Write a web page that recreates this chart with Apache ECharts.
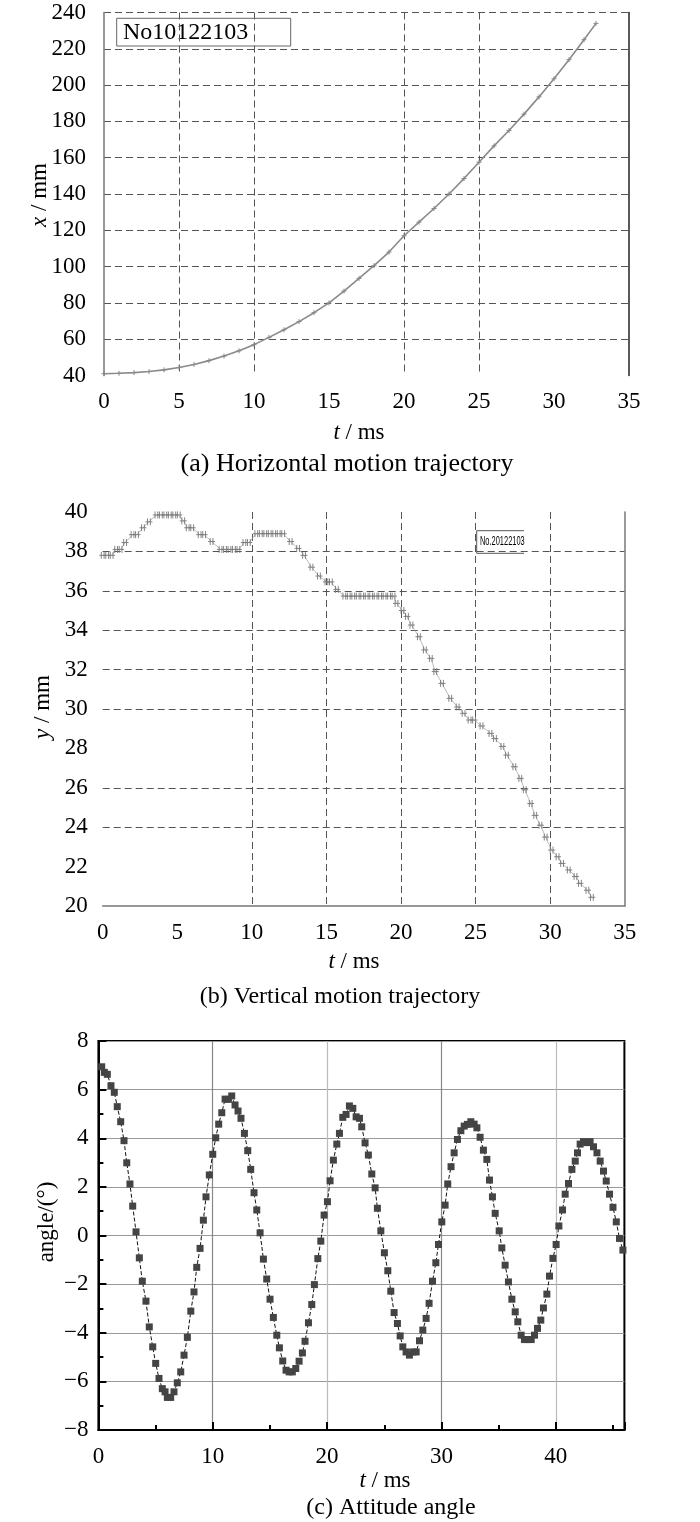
<!DOCTYPE html>
<html>
<meta charset="UTF-8">
<title>motion-trajectory</title>
<style type="text/css">
    html,
    body {
        margin: 0px;
        background: #fff;
    }

    #chart {
        width: 700px;
        height: 1522px;
    }
</style>
<script src="https://cdn.jsdelivr.net/npm/echarts@6/dist/echarts.min.js"></script>

<body>
    <div id="chart"></div>
    <script>
        const FONT = 'Liberation Serif';

        // (a) horizontal position x / mm against t / ms
        const tA = [0, 1, 2, 3, 4, 5, 6, 7, 8, 9, 10, 11, 12, 13, 14, 15, 16, 17, 18, 19, 20,
            21, 22, 23, 24, 25, 26, 27, 28, 29, 30, 31, 32, 32.8];
        const xA = [41, 41.2, 41.6, 42.2, 43.1, 44.4, 46.1, 48.2, 50.7, 53.6, 57, 61, 65.2, 69.7, 74.6, 80,
            86.5, 93.5, 100.5, 108, 117, 124.5, 132, 140, 148.5, 157.5, 166.5, 175, 184, 193.5, 203.5, 214, 225, 234];

        // (b) vertical position y / mm against t / ms
        const tB = [0, 0.3, 0.6, 0.9, 1.2, 1.5, 2.0, 2.3, 2.7, 3.1, 3.6, 3.9, 4.2, 4.5, 4.8, 5.1, 5.4, 5.7, 6.0,
            6.5, 6.8, 7.3, 7.9, 8.2, 8.5, 8.8, 9.1, 9.5, 9.8, 10.3, 10.6, 10.9, 11.2, 11.5, 11.8, 12.1, 12.6,
            13.1, 13.5, 14.0, 14.5, 15.0, 15.3, 15.7, 16.2, 16.5, 16.8, 17.1, 17.4, 17.7, 18.0, 18.3, 18.6,
            18.9, 19.2, 19.5, 19.7, 20.1, 20.4, 20.7, 21.2, 21.6, 22.0, 22.3, 22.75, 23.3, 23.8, 24.2, 24.6,
            24.9, 25.4, 26.0, 26.3, 26.8, 27.1, 27.6, 28.0, 28.3, 28.7, 29.0, 29.35, 29.7, 30.1, 30.5, 30.8,
            31.25, 31.7, 32.0, 32.5, 32.8];
        const yB = [37.8, 37.8, 37.8, 38.1, 38.1, 38.45, 38.85, 38.85, 39.2, 39.5, 39.85, 39.85, 39.85, 39.85,
            39.85, 39.85, 39.55, 39.2, 39.2, 38.85, 38.85, 38.5, 38.1, 38.1, 38.1, 38.1, 38.1, 38.45, 38.45,
            38.9, 38.9, 38.9, 38.9, 38.9, 38.9, 38.9, 38.5, 38.15, 37.8, 37.2, 36.75, 36.45, 36.45, 36.07,
            35.73, 35.73, 35.73, 35.73, 35.73, 35.73, 35.73, 35.73, 35.73, 35.73, 35.73, 35.73, 35.36, 35.0,
            34.7, 34.26, 33.67, 33.0, 32.57, 31.9, 31.3, 30.54, 30.1, 29.78, 29.44, 29.44, 29.14, 28.76, 28.5,
            28.1, 27.66, 27.07, 26.48, 25.9, 25.2, 24.6, 24.1, 23.5, 22.84, 22.5, 22.16, 21.83, 21.5, 21.15,
            20.8, 20.44];

        // (c) attitude angle / deg against t / ms
        const tC = [0.29, 0.52, 0.78, 1.10, 1.39, 1.65, 1.95, 2.24, 2.48, 2.76, 3.00, 3.29, 3.58, 3.84, 4.16,
            4.45, 4.75, 5.01, 5.30, 5.59, 5.83, 6.03, 6.32, 6.61, 6.90, 7.20, 7.49, 7.78, 8.08, 8.36, 8.60,
            8.89, 9.18, 9.41, 9.70, 10.00, 10.26, 10.52, 10.79, 11.08, 11.37, 11.66, 11.95, 12.21, 12.47,
            12.77, 13.06, 13.32, 13.61, 13.85, 14.14, 14.43, 14.72, 15.01, 15.30, 15.60, 15.83, 16.12, 16.41,
            16.68, 16.96, 17.26, 17.55, 17.84, 18.07, 18.37, 18.66, 18.89, 19.19, 19.45, 19.74, 20.03, 20.26,
            20.55, 20.85, 21.08, 21.37, 21.66, 21.95, 22.25, 22.54, 22.83, 23.03, 23.32, 23.61, 23.91, 24.20,
            24.40, 24.70, 25.01, 25.31, 25.57, 25.86, 26.15, 26.39, 26.62, 26.91, 27.20, 27.50, 27.79, 28.08,
            28.37, 28.66, 28.92, 29.22, 29.51, 29.74, 30.03, 30.32, 30.55, 30.84, 31.11, 31.40, 31.70, 31.99,
            32.27, 32.57, 32.86, 33.10, 33.38, 33.67, 33.97, 34.20, 34.46, 34.70, 35.05, 35.28, 35.57, 35.86,
            36.16, 36.45, 36.68, 36.97, 37.26, 37.56, 37.85, 38.14, 38.40, 38.69, 38.92, 39.22, 39.45, 39.75,
            40.03, 40.27, 40.59, 40.82, 41.11, 41.41, 41.70, 41.90, 42.13, 42.42, 42.72, 43.00, 43.30, 43.60,
            43.88, 44.17, 44.41, 44.70, 45.00, 45.29, 45.57, 45.87];
        const angC = [6.94, 6.71, 6.63, 6.16, 5.89, 5.30, 4.68, 3.90, 2.99, 2.12, 1.21, 0.15, -0.92, -1.88,
            -2.70, -3.76, -4.58, -5.26, -5.88, -6.30, -6.43, -6.66, -6.66, -6.43, -6.06, -5.61, -4.92, -4.19,
            -3.11, -2.32, -1.31, -0.53, 0.63, 1.59, 2.49, 3.34, 4.02, 4.58, 5.05, 5.61, 5.60, 5.74, 5.37, 5.12,
            4.82, 4.20, 3.49, 2.72, 1.76, 1.05, 0.11, -0.97, -1.79, -2.62, -3.37, -4.10, -4.62, -5.16, -5.54,
            -5.61, -5.61, -5.47, -5.17, -4.83, -4.35, -3.59, -2.84, -2.02, -0.95, -0.23, 0.84, 1.39, 2.25, 3.10,
            3.76, 4.20, 4.86, 4.98, 5.33, 5.23, 4.88, 4.82, 4.47, 3.81, 3.31, 2.53, 1.96, 1.12, 0.19, -0.71,
            -1.45, -2.29, -3.17, -3.62, -4.13, -4.58, -4.79, -4.92, -4.79, -4.79, -4.33, -3.89, -3.41, -2.79,
            -1.88, -1.12, -0.37, 0.56, 1.25, 2.12, 2.83, 3.40, 3.95, 4.31, 4.50, 4.57, 4.68, 4.58, 4.43, 4.04,
            3.51, 3.13, 2.28, 1.59, 0.91, 0.19, -0.51, -1.22, -1.91, -2.62, -3.14, -3.55, -4.10, -4.28, -4.28,
            -4.28, -4.10, -3.82, -3.48, -2.98, -2.41, -1.67, -0.94, -0.37, 0.39, 1.05, 1.70, 2.14, 2.72, 3.06,
            3.40, 3.76, 3.86, 3.82, 3.86, 3.65, 3.40, 3.06, 2.65, 2.24, 1.70, 1.16, 0.56, -0.12, -0.60];

        const legendA = 'No10122103';
        const legendB = 'No.20122103';
        const captions = ['(a) Horizontal motion trajectory', '(b) Vertical motion trajectory', '(c) Attitude angle'];

        const pair = (xs, ys) => xs.map((x, i) => [x, ys[i]]);
        const off = 'rgba(0,0,0,0)';
        const dash = '#555';
        const labelStyle = { color: '#000', fontFamily: FONT, fontSize: 23 };
        const plus2 = 'path://M3,0L3,10M7,0L7,10M0,5L10,5';
        const plus = 'path://M5,0L5,10M0,5L10,5';
        const minus = v => String(v).replace('-', '\u2212');
        const italicName = (txt, x, y, rot) => ({
            type: 'text', x: x, y: y, rotation: rot || 0,
            style: {
                text: txt, fontFamily: FONT, fontSize: 23, fill: '#000', align: 'center', verticalAlign: 'middle',
                rich: { i: { fontStyle: 'italic', fontFamily: FONT, fontSize: 23 } }
            }
        });
        const caption = (txt, x, y, size) => ({
            type: 'text', x: x, y: y,
            style: { text: txt, fontFamily: FONT, fontSize: size, fill: '#000', align: 'center', verticalAlign: 'middle' }
        });

        const chart = echarts.init(document.getElementById('chart'));

        const option = {
            animation: false,
            backgroundColor: '#fff',
            grid: [
                { left: 104, top: 12.5, width: 525, height: 363 },
                { left: 102.7, top: 512, width: 522, height: 394 },
                { left: 98.4, top: 1041, width: 526, height: 389, show: true, borderColor: '#000', borderWidth: 2 }
            ],
            xAxis: [
                {
                    gridIndex: 0, type: 'value', min: 0, max: 35, interval: 5,
                    axisLine: { show: false }, axisTick: { show: false },
                    axisLabel: Object.assign({ margin: 15 }, labelStyle),
                    splitLine: {
                        show: true,
                        lineStyle: { type: [7, 4], color: [off, dash, dash, off, dash, dash, off, off] }
                    }
                },
                {
                    gridIndex: 1, type: 'value', min: 0, max: 35, interval: 5,
                    axisLine: { show: true, onZero: false, lineStyle: { color: '#777', width: 1.5 } },
                    axisTick: { show: false },
                    axisLabel: Object.assign({ margin: 15 }, labelStyle),
                    splitLine: {
                        show: true,
                        lineStyle: { type: [7, 4], color: [off, off, dash, dash, dash, dash, dash, off] }
                    }
                },
                {
                    gridIndex: 2, type: 'value', min: 0, max: 46, interval: 10,
                    axisLine: { show: true, onZero: false, lineStyle: { color: '#000', width: 2 } },
                    axisTick: { show: true, inside: true, length: 8, lineStyle: { color: '#000', width: 2 } },
                    minorTick: { show: true, splitNumber: 2, length: 5, lineStyle: { color: '#000', width: 2 } },
                    axisLabel: Object.assign({ margin: 15, formatter: v => (v % 10 === 0 ? v : '') }, labelStyle),
                    splitLine: {
                        show: true,
                        lineStyle: { width: 1.2, color: ['#888', '#888', '#bbb', '#888', '#bbb', off] }
                    }
                }
            ],
            yAxis: [
                {
                    gridIndex: 0, type: 'value', min: 40, max: 240, interval: 20,
                    axisLine: { show: true, onZero: false, lineStyle: { color: '#777', width: 1.5 } },
                    axisTick: { show: false },
                    axisLabel: Object.assign({ margin: 18 }, labelStyle),
                    splitLine: {
                        show: true,
                        lineStyle: { type: [7, 4], color: [off, dash, dash, dash, dash, dash, dash, dash, dash, dash, dash] }
                    }
                },
                {
                    gridIndex: 0, type: 'value', min: 40, max: 240, position: 'right',
                    axisLine: { show: true, onZero: false, lineStyle: { color: '#222', width: 1.5 } },
                    axisTick: { show: false }, axisLabel: { show: false }, splitLine: { show: false }
                },
                {
                    gridIndex: 1, type: 'value', min: 20, max: 40, interval: 2,
                    axisLine: { show: false }, axisTick: { show: false },
                    axisLabel: Object.assign({ margin: 15 }, labelStyle),
                    splitLine: {
                        show: true,
                        lineStyle: { type: [7, 4], color: [off, off, dash, dash, off, dash, dash, dash, dash, dash, off] }
                    }
                },
                {
                    gridIndex: 1, type: 'value', min: 20, max: 40, position: 'right',
                    axisLine: { show: true, onZero: false, lineStyle: { color: '#777', width: 1.5 } },
                    axisTick: { show: false }, axisLabel: { show: false }, splitLine: { show: false }
                },
                {
                    gridIndex: 2, type: 'value', min: -8, max: 8, interval: 2,
                    axisLine: { show: true, onZero: false, lineStyle: { color: '#000', width: 2 } },
                    axisTick: { show: true, inside: true, length: 8, lineStyle: { color: '#000', width: 2 } },
                    minorTick: { show: true, splitNumber: 2, length: 5, lineStyle: { color: '#000', width: 2 } },
                    axisLabel: Object.assign({ margin: 10, formatter: minus }, labelStyle),
                    splitLine: { show: true, lineStyle: { width: 1.2, color: '#999' } }
                }
            ],
            series: [
                {
                    type: 'line', xAxisIndex: 0, yAxisIndex: 0, data: pair(tA, xA),
                    lineStyle: { color: '#8a8a8a', width: 1.6 },
                    symbol: plus, symbolSize: 5,
                    itemStyle: { color: off, borderColor: '#888', borderWidth: 1 }
                },
                {
                    type: 'line', xAxisIndex: 1, yAxisIndex: 2, data: pair(tB, yB),
                    lineStyle: { color: '#aaa', width: 0.8 },
                    symbol: plus2, symbolSize: [7, 7],
                    itemStyle: { color: off, borderColor: '#777', borderWidth: 0.9 }
                },
                {
                    type: 'line', xAxisIndex: 2, yAxisIndex: 4, data: pair(tC, angC),
                    lineStyle: { color: '#111', width: 1, type: [4, 2] },
                    symbol: 'rect', symbolSize: 7,
                    itemStyle: { color: '#444' }
                }
            ],
            graphic: [
                {
                    type: 'rect', shape: { x: 116.7, y: 18.3, width: 174, height: 27.7 },
                    style: { fill: '#fff', stroke: '#666', lineWidth: 1 }
                },
                {
                    type: 'text', x: 123, y: 32.5,
                    style: { text: legendA, fontFamily: FONT, fontSize: 24, fill: '#000', verticalAlign: 'middle' }
                },
                {
                    type: 'polyline',
                    shape: { points: [[524, 530.7], [476.7, 530.7], [476.7, 553.3], [524, 553.3]] },
                    style: { fill: null, stroke: '#555', lineWidth: 1 }
                },
                {
                    type: 'text', x: 480, y: 542, scaleX: 0.62,
                    style: { text: legendB, fontFamily: 'Liberation Sans', fontSize: 12, fill: '#000', verticalAlign: 'middle' }
                },
                // axis names
                italicName('{i|x} / mm', 40, 195, Math.PI / 2),
                italicName('{i|t} / ms', 359, 433),
                italicName('{i|y} / mm', 43, 707, Math.PI / 2),
                italicName('{i|t} / ms', 354, 962),
                {
                    type: 'text', x: 47, y: 1222, rotation: Math.PI / 2,
                    style: { text: 'angle/(°)', fontFamily: FONT, fontSize: 23, fill: '#000', align: 'center', verticalAlign: 'middle' }
                },
                italicName('{i|t} / ms', 385, 1481),
                // captions
                caption(captions[0], 347, 464, 26),
                caption(captions[1], 340, 997, 24),
                caption(captions[2], 391, 1508, 24)
            ]
        };
        chart.setOption(option);
    </script>
</body>

</html>
